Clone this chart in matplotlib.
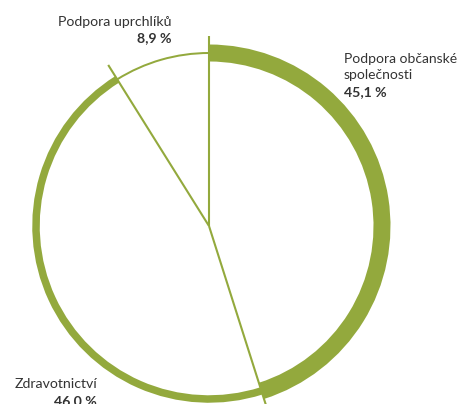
import numpy as np
import matplotlib
matplotlib.use("Agg")
import matplotlib.pyplot as plt

labels = ["Podpora občanské\nspolečnosti", "Zdravotnictví", "Podpora uprchlíků"]
values = [45.1, 46.0, 8.9]
value_text = ["45,1 %", "46,0 %", "8,9 %"]
ring_widths = [17, 7.5, 2]

green = "#93a93d"
text_col = "#333333"
W, H = 461, 404
cx, cy = 209, H - 226
r_mid = 173
r_line = 190

plt.rcParams["font.family"] = ["Lato", "DejaVu Sans"]

fig = plt.figure(figsize=(W / 100, H / 100), dpi=100)
ax = fig.add_axes([0, 0, 1, 1])

wedges, _ = ax.pie(values, startangle=90, counterclock=False, center=(cx, cy),
                   radius=r_mid, frame=True,
                   wedgeprops=dict(facecolor=green, edgecolor="none"))
for w, lw in zip(wedges, ring_widths):
    w.set_radius(r_mid + lw / 2)
    w.set_width(lw)

# slice boundaries, drawn a bit past the ring
bounds = np.concatenate([[0], np.cumsum(values)[:-1]])
for b in bounds:
    ang = np.deg2rad(90 - b / sum(values) * 360)
    ax.plot([cx, cx + r_line * np.cos(ang)], [cy, cy + r_line * np.sin(ang)],
            color=green, lw=1.5, solid_capstyle="butt")

ax.set_xlim(0, W)
ax.set_ylim(0, H)
ax.set_aspect("equal")
ax.axis("off")

# labels, baselines in pixels from the top
fs = 10.2
ax.text(344, H - 63, "Podpora občanské", ha="left", va="baseline", fontsize=10, color=text_col)
ax.text(344, H - 79, "společnosti", ha="left", va="baseline", fontsize=10, color=text_col)
ax.text(344, H - 96, value_text[0], ha="left", va="baseline", fontsize=fs, fontweight="bold", color=text_col)
ax.text(97, H - 388, labels[1], ha="right", va="baseline", fontsize=fs, color=text_col)
ax.text(97, H - 405, value_text[1], ha="right", va="baseline", fontsize=fs, fontweight="bold", color=text_col)
ax.text(171, H - 26, labels[2], ha="right", va="baseline", fontsize=fs, color=text_col)
ax.text(171, H - 42, value_text[2], ha="right", va="baseline", fontsize=fs, fontweight="bold", color=text_col)

fig.savefig("out.png", dpi=100)
